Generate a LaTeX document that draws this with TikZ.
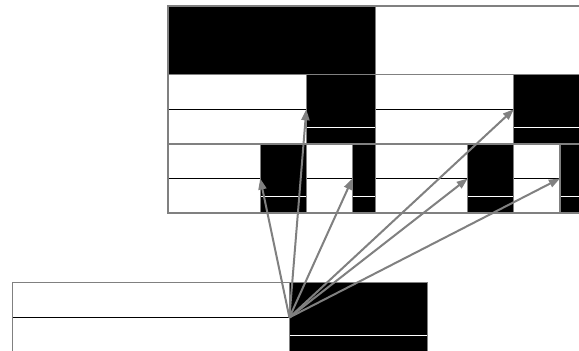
\documentclass[tikz,border=0pt]{standalone}
\usetikzlibrary{arrows.meta}
\definecolor{gline}{HTML}{808080}
\tikzset{
  frame/.style={draw=gline, line width=1.2pt},
  midline/.style={draw=black, line width=1.2pt},
  wline/.style={draw=white, line width=1.2pt},
  link/.style={draw=gline, line width=2pt, -{Triangle[length=11pt,width=8pt]}},
}
\newcommand\pairrow[4]{%
  \pgfmathsetmacro\xa{#1}\pgfmathsetmacro\xb{#1+2*#2/3}\pgfmathsetmacro\xc{#1+#2}%
  \pgfmathsetmacro\ya{#3}\pgfmathsetmacro\yb{#3+#4}\pgfmathsetmacro\ym{#3+0.5*#4}\pgfmathsetmacro\yw{#3+0.76*#4}%
  \fill[white] (\xa,\ya) rectangle (\xb,\yb);
  \fill[black] (\xb,\ya) rectangle (\xc,\yb);
  \draw[midline] (\xa,\ym) -- (\xb,\ym);
  \draw[wline] (\xb,\yw) -- (\xc,\yw);
  \draw[frame] (\xa,\ya) rectangle (\xb,\yb);
  \draw[frame] (\xb,\ya) rectangle (\xc,\yb);
}
\begin{document}
\begin{tikzpicture}[x=1pt,y=-1pt]
\useasboundingbox (0,0) rectangle (579,351);
\clip (0,0) rectangle (579,351);
\fill[white] (0,0) rectangle (579,351);
% top row
\fill[black] (168,6) rectangle (375.5,74.5);
\draw[frame] (168,6) rectangle (375.5,74.5);
\draw[frame] (375.5,6) rectangle (583,74.5);
% second row
\pairrow{168}{207.5}{74.5}{69.5}
\pairrow{375.5}{207.5}{74.5}{69.5}
% third row
\pairrow{168}{138.333}{144}{69}
\pairrow{306.333}{69.167}{144}{69}
\pairrow{375.5}{138.333}{144}{69}
\pairrow{513.833}{69.167}{144}{69}
% bottom row
\pairrow{12.7}{415}{282.7}{69.5}
% connectors
\coordinate (src) at (289.4,317.45);
\coordinate (t1) at (306.333,109.25);
\coordinate (t2) at (260.2,178.5);
\coordinate (t3) at (352.44,178.5);
\coordinate (t4) at (513.833,109.25);
\coordinate (t5) at (467.7,178.5);
\coordinate (t6) at (559.94,178.5);
\foreach \t in {t1,t2,t3,t4,t5,t6} \draw[link] (src) -- (\t);
\end{tikzpicture}
\end{document}
